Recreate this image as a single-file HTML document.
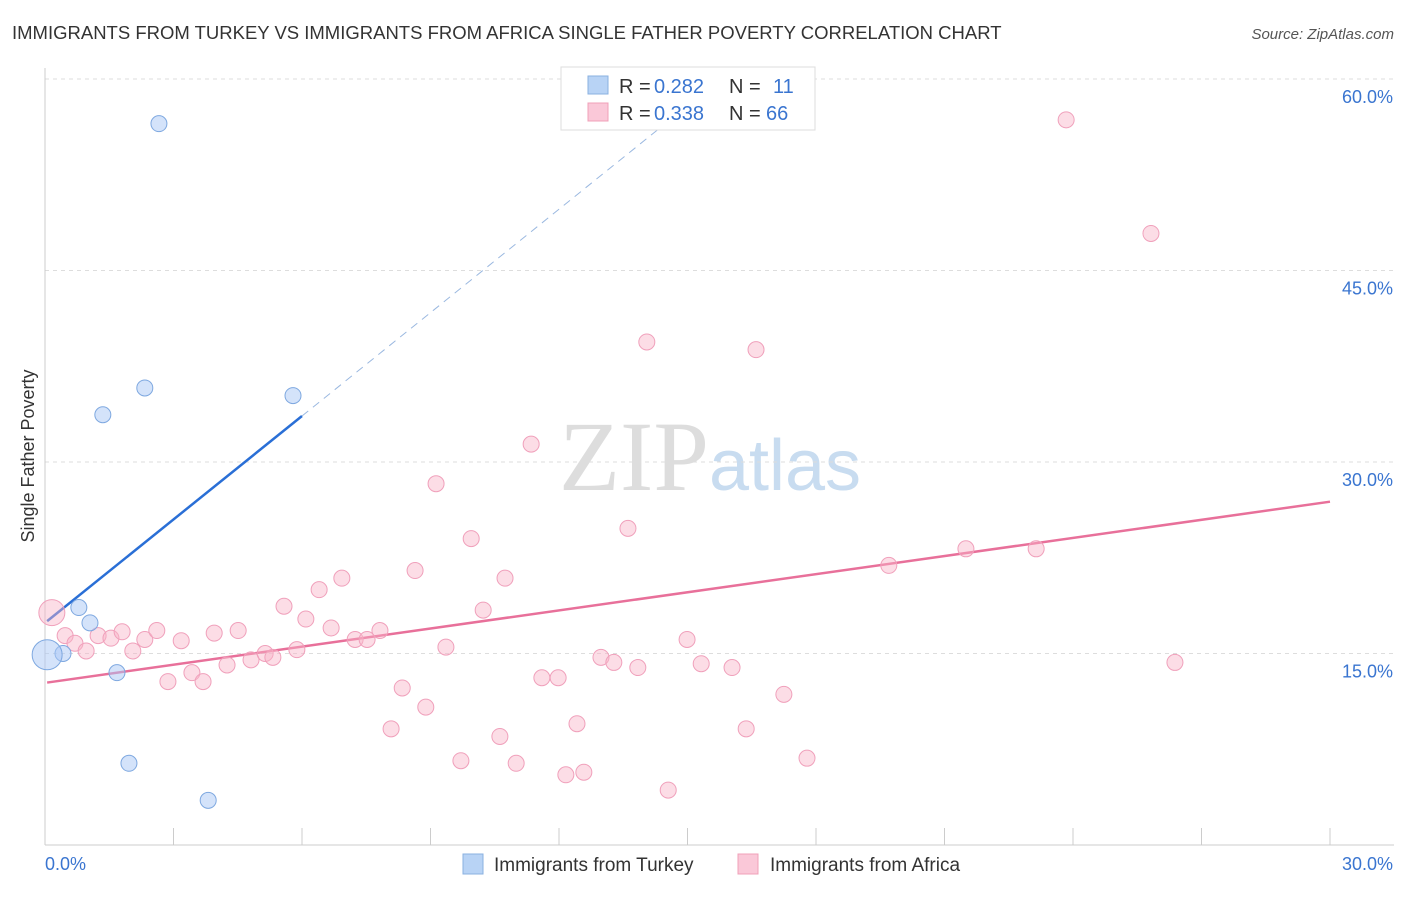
<!DOCTYPE html>
<html><head><meta charset="utf-8"><style>
body{margin:0;background:#fff;font-family:"Liberation Sans",sans-serif}
</style></head><body>
<svg width="1406" height="892" xmlns="http://www.w3.org/2000/svg" font-family="Liberation Sans, sans-serif">
<text x="12" y="39" font-size="18.5" fill="#333">IMMIGRANTS FROM TURKEY VS IMMIGRANTS FROM AFRICA SINGLE FATHER POVERTY CORRELATION CHART</text>
<text x="1394" y="39" font-size="15" fill="#555" text-anchor="end" font-style="italic">Source: ZipAtlas.com</text>
<text transform="translate(34,456) rotate(-90)" font-size="18" fill="#333" text-anchor="middle">Single Father Poverty</text>
<text x="710" y="490" font-size="100" text-anchor="middle" fill="#ddd" font-family="Liberation Serif, serif">ZIP<tspan fill="#c8dcf0" font-family="Liberation Sans, sans-serif" font-size="72">atlas</tspan></text>
<g id="grid"></g>
<g id="axes"></g>
<g id="lines"></g>
<g id="pts"></g>
<g>
<rect x="561" y="67" width="254" height="63" fill="#fff" stroke="#ddd"/>
<rect x="588" y="76" width="20" height="18" fill="#b8d3f5" stroke="#8ab0e0"/>
<rect x="588" y="103" width="20" height="18" fill="#fac8d8" stroke="#f0a0b8"/>
<text x="619" y="93" font-size="20" fill="#333">R = </text>
<text x="654" y="93" font-size="20" fill="#3a75d0">0.282</text>
<text x="729" y="93" font-size="20" fill="#333">N = </text>
<text x="773" y="93" font-size="20" fill="#3a75d0">11</text>
<text x="619" y="120" font-size="20" fill="#333">R = </text>
<text x="654" y="120" font-size="20" fill="#3a75d0">0.338</text>
<text x="729" y="120" font-size="20" fill="#333">N = </text>
<text x="766" y="120" font-size="20" fill="#3a75d0">66</text>
</g>
<g>
<rect x="463" y="854" width="20" height="20" fill="#b8d3f5" stroke="#8ab0e0"/>
<text x="494" y="871" font-size="19" fill="#333">Immigrants from Turkey</text>
<rect x="738" y="854" width="20" height="20" fill="#fac8d8" stroke="#f0a0b8"/>
<text x="770" y="871" font-size="19" fill="#333">Immigrants from Africa</text>
</g>
</svg>
<script>
const yTicks=[15,30,45,60];
const yTickLabels=["15.0%","30.0%","45.0%","60.0%"];
const xTickLabels=["0.0%","30.0%"];
const turkeyX=[2.66,1.35,2.33,5.79,0.79,1.05,0.42,0.05,1.68,1.96,3.81];
const turkeyY=[56.5,33.7,35.8,35.2,18.6,17.4,15.0,14.9,13.5,6.4,3.5];
const africaX=[23.84,25.82,14.05,16.6,11.35,9.13,13.61,9.95,21.5,23.14,19.7,8.64,6.93,10.74,6.4,5.58,10.23,6.09,6.68,7.82,0.16,0.47,0.7,0.96,1.24,1.54,1.8,2.05,2.33,2.61,2.87,3.18,3.43,3.69,3.95,4.25,4.51,4.81,5.14,5.32,5.88,7.24,7.52,9.36,8.34,8.08,8.89,9.71,10.62,11.0,11.6,11.98,12.42,12.16,12.58,12.98,13.28,13.84,14.55,14.99,15.32,16.04,16.37,17.25,17.79,26.38];
const africaY=[56.8,47.9,39.4,38.8,31.4,28.3,24.8,24.0,23.2,23.2,21.9,21.5,20.9,20.9,20.0,18.7,18.4,17.7,17.0,16.8,18.2,16.4,15.8,15.2,16.4,16.2,16.7,15.2,16.1,16.8,12.8,16.0,13.5,12.8,16.6,14.1,16.8,14.5,15.0,14.7,15.3,16.1,16.1,15.5,12.3,9.1,10.8,6.6,8.5,6.4,13.1,13.1,9.5,5.5,5.7,14.7,14.3,13.9,4.3,16.1,14.2,13.9,9.1,11.8,6.8,14.3];
const turkeyTrend=[17.4,2.7];
const africaTrend=[12.7,0.473];
const NS="http://www.w3.org/2000/svg";
const X=v=>45+v/30*1285, Y=v=>845-v*12.767;
function mk(p,t,a){const e=document.createElementNS(NS,t);for(const k in a)e.setAttribute(k,a[k]);p.appendChild(e);return e;}
const grid=document.getElementById('grid'),axes=document.getElementById('axes');
yTicks.forEach((t,i)=>{
 const g=mk(grid,'line',{x1:45,x2:1394,y1:Y(t),y2:Y(t),stroke:'#ddd','stroke-dasharray':'4,4'});
 
 
 const l=mk(axes,'text',{x:1393,y:Y(t)+24,'font-size':18,fill:'#3a75d0','text-anchor':'end'});l.textContent=yTickLabels[i];
 
 
});
mk(axes,'line',{x1:45,x2:45,y1:68,y2:845,stroke:'#ccc'});
mk(axes,'line',{x1:45,x2:1394,y1:845,y2:845,stroke:'#ccc'});
for(let i=1;i<=10;i++){mk(axes,'line',{x1:X(i*3),x2:X(i*3),y1:828,y2:845,stroke:'#ccc'});}
[[0,45,'start'],[30,1393,'end']].forEach((d,i)=>{const t=mk(axes,'text',{x:d[1],y:870,'font-size':18,fill:'#3a75d0','text-anchor':d[2]});t.textContent=xTickLabels[i];
 
 });
const pts=document.getElementById('pts');
africaX.forEach((x,i)=>{const c=mk(pts,'circle',{cx:X(x),cy:Y(africaY[i]),r:i==20?13:8,fill:'rgba(248,180,200,0.45)',stroke:'#f0a0bb','stroke-width':1});
 
 });
turkeyX.forEach((x,i)=>{const c=mk(pts,'circle',{cx:X(x),cy:Y(turkeyY[i]),r:i==7?15:8,fill:'rgba(170,200,245,0.5)',stroke:'#7ea8e0','stroke-width':1});
 
 });
const lines=document.getElementById('lines');
const tf=x=>turkeyTrend[0]+turkeyTrend[1]*x, af=x=>africaTrend[0]+africaTrend[1]*x;
let l1=mk(lines,'line',{x1:X(0.05),y1:Y(tf(0.05)),x2:X(6),y2:Y(tf(6)),stroke:'#2a6fd6','stroke-width':2.5});


let l2=mk(lines,'line',{x1:X(6),y1:Y(tf(6)),x2:X(14.5),y2:Y(tf(14.5)),stroke:'#9ab8e0','stroke-width':1,'stroke-dasharray':'8,6'});


let l3=mk(lines,'line',{x1:X(0.05),y1:Y(af(0.05)),x2:X(30),y2:Y(af(30)),stroke:'#e8709a','stroke-width':2.5});


</script>
</body></html>
